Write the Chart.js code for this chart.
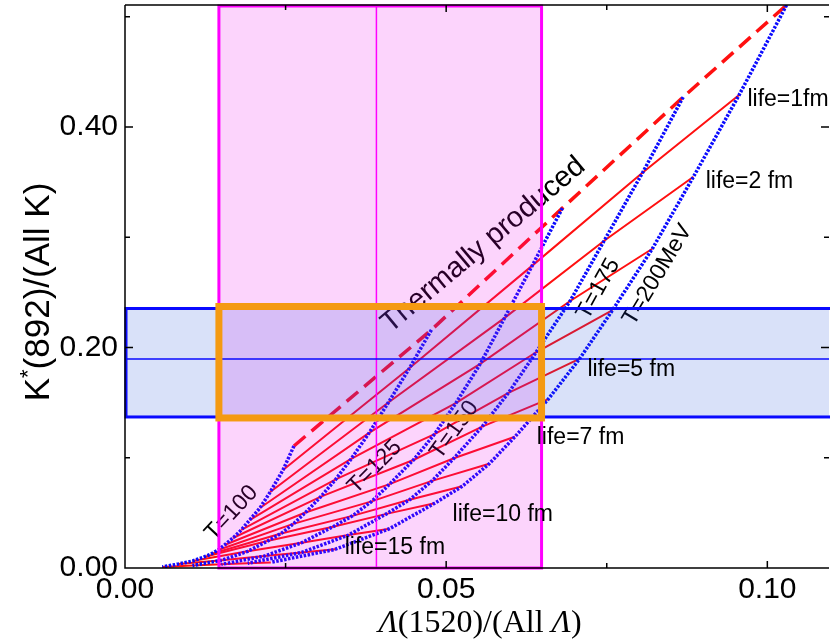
<!DOCTYPE html>
<html>
<head>
<meta charset="utf-8">
<script src="https://cdn.jsdelivr.net/npm/chart.js@4.4.1/dist/chart.umd.min.js"></script>
<style>
  html, body { margin: 0; padding: 0; background: #fff; }
</style>
</head>
<body>
<canvas id="chart" width="830" height="641"></canvas>
<script>
// ---- values ----
const temperatures = [100, 125, 150, 175, 200];                   // MeV
const lifetimes = [0, 1, 2, 3, 4, 5, 6, 7, 8, 9, 10, 12, 15, 20];  // fm (0 = thermal)

// Lambda(1520)/(All Lambda) and K*(892)/(All K) along each isotherm, one entry per lifetime
const lambdaT100 = [0.0263, 0.0246, 0.0226, 0.0210, 0.0194, 0.0181, 0.0168, 0.0155, 0.0145, 0.0134, 0.0123, 0.0105, 0.0083, 0.0058];
const kstarT100  = [0.1107, 0.0889, 0.0689, 0.0544, 0.0435, 0.0345, 0.0272, 0.0209, 0.0163, 0.0127, 0.0100, 0.0063, 0.0036, 0.0009];
const lambdaT125 = [0.0477, 0.0443, 0.0410, 0.0380, 0.0352, 0.0328, 0.0305, 0.0281, 0.0262, 0.0243, 0.0223, 0.0191, 0.0151, 0.0105];
const kstarT125  = [0.2160, 0.1814, 0.1501, 0.1225, 0.0989, 0.0804, 0.0648, 0.0503, 0.0400, 0.0313, 0.0248, 0.0151, 0.0071, 0.0022];
const lambdaT150 = [0.0681, 0.0634, 0.0591, 0.0553, 0.0515, 0.0482, 0.0449, 0.0412, 0.0384, 0.0354, 0.0324, 0.0275, 0.0217, 0.0150];
const kstarT150  = [0.3265, 0.2743, 0.2269, 0.1851, 0.1495, 0.1215, 0.0980, 0.0761, 0.0604, 0.0473, 0.0375, 0.0229, 0.0108, 0.0033];
const lambdaT175 = [0.0869, 0.0806, 0.0746, 0.0693, 0.0640, 0.0597, 0.0556, 0.0512, 0.0478, 0.0443, 0.0407, 0.0348, 0.0275, 0.0191];
const kstarT175  = [0.4272, 0.3588, 0.2969, 0.2422, 0.1957, 0.1589, 0.1282, 0.0995, 0.0790, 0.0619, 0.0491, 0.0299, 0.0141, 0.0043];
const lambdaT200 = [0.1030, 0.0956, 0.0885, 0.0821, 0.0759, 0.0708, 0.0659, 0.0607, 0.0567, 0.0525, 0.0482, 0.0412, 0.0327, 0.0227];
const kstarT200  = [0.5107, 0.4290, 0.3549, 0.2896, 0.2339, 0.1900, 0.1532, 0.1190, 0.0945, 0.0741, 0.0587, 0.0357, 0.0169, 0.0051];

// measured bands: [low, high, central]
const lambdaBand = [0.01462, 0.06485, 0.03914];
const kstarBand  = [0.1370, 0.2354, 0.1896];

const xTicks = [0, 0.05, 0.10];
const xMinorTicks = [0.025, 0.075];
const yTicks = [0, 0.20, 0.40];
const yMinorTicks = [0.1, 0.3, 0.5];

const labelledLifetimes = [1, 2, 5, 7, 10, 15];

// ---- build datasets ----
const lambdaByT = [lambdaT100, lambdaT125, lambdaT150, lambdaT175, lambdaT200];
const kstarByT  = [kstarT100, kstarT125, kstarT150, kstarT175, kstarT200];

const isotherms = temperatures.map((t, ti) => ({
  label: 'T=' + t,
  data: lifetimes.map((_, li) => ({ x: lambdaByT[ti][li], y: kstarByT[ti][li] })),
  borderColor: '#0a0aff',
  borderWidth: 3.5,
  borderDash: [2.5, 1.5],
  order: 0
}));

const lifeLines = lifetimes.map((l, li) => ({
  label: li === 0 ? 'Thermally produced' : 'life=' + l + ' fm',
  data: temperatures.map((_, ti) => ({ x: lambdaByT[ti][li], y: kstarByT[ti][li] })),
  borderColor: '#ff1010',
  borderWidth: li === 0 ? 3.5 : 2,
  borderDash: li === 0 ? [15, 8] : [],
  order: 1
}));

// annotation text anchors (data coordinates) and rotation in degrees
const notes = [
  { text: 'Thermally produced', x: 0.0558, y: 0.293, rot: -40, size: 29 },
  { text: 'T=100', x: 0.0166, y: 0.0499, rot: -47, size: 23 },
  { text: 'T=125', x: 0.0389, y: 0.0916, rot: -45, size: 23 },
  { text: 'T=150', x: 0.0513, y: 0.1252, rot: -54, size: 23 },
  { text: 'T=175', x: 0.0737, y: 0.2531, rot: -61, size: 23 },
  { text: 'T=200MeV', x: 0.0829, y: 0.2660, rot: -59, size: 23 }
];
const lifeNotes = [
  { x: 0.0969, y: 0.4245 },
  { x: 0.0904, y: 0.3501 },
  { x: 0.0720, y: 0.1796 },
  { x: 0.0641, y: 0.1179 },
  { x: 0.0510, y: 0.0481 },
  { x: 0.0342, y: 0.0181 }
];

const SANS = '"Liberation Sans", Arial, sans-serif';
const SERIF = '"Liberation Serif", "Times New Roman", serif';

const overlays = {
  id: 'overlays',
  afterDatasetsDraw(chart) {
    const { ctx, chartArea: a, scales: { x, y } } = chart;
    ctx.save();

    // rotated notes
    ctx.fillStyle = '#000';
    ctx.textAlign = 'center';
    ctx.textBaseline = 'middle';
    notes.forEach(n => {
      ctx.save();
      ctx.translate(x.getPixelForValue(n.x), y.getPixelForValue(n.y));
      ctx.rotate(n.rot * Math.PI / 180);
      ctx.font = n.size + 'px ' + SANS;
      ctx.fillText(n.text, 0, 0);
      ctx.restore();
    });

    const x0 = x.getPixelForValue(lambdaBand[0]);
    const x1 = x.getPixelForValue(lambdaBand[1]);
    const xc = x.getPixelForValue(lambdaBand[2]);
    const y0 = y.getPixelForValue(kstarBand[0]);
    const y1 = y.getPixelForValue(kstarBand[1]);
    const yc = y.getPixelForValue(kstarBand[2]);

    // Lambda(1520) band
    ctx.fillStyle = 'rgba(235, 0, 235, 0.17)';
    ctx.fillRect(x0, a.top, x1 - x0, a.bottom - a.top);
    // K* band
    ctx.fillStyle = 'rgba(30, 80, 220, 0.17)';
    ctx.fillRect(a.left, y1, a.right - a.left, y0 - y1);

    ctx.strokeStyle = '#ff00ff';
    ctx.lineWidth = 3;
    ctx.strokeRect(x0, a.top + 1, x1 - x0, a.bottom - a.top - 1);
    ctx.lineWidth = 1.5;
    ctx.beginPath();
    ctx.moveTo(xc, a.top);
    ctx.lineTo(xc, a.bottom);
    ctx.stroke();

    ctx.strokeStyle = '#0a0aff';
    ctx.lineWidth = 3;
    ctx.strokeRect(a.left + 1, y1, a.right - a.left + 10, y0 - y1);
    ctx.lineWidth = 1.5;
    ctx.beginPath();
    ctx.moveTo(a.left, yc);
    ctx.lineTo(a.right, yc);
    ctx.stroke();

    // overlap box
    ctx.strokeStyle = '#f49a12';
    ctx.lineWidth = 7;
    ctx.strokeRect(x0, y1 - 2, x1 - x0, y0 - y1 + 3);

    // lifetime labels
    ctx.fillStyle = '#000';
    ctx.textAlign = 'left';
    ctx.font = '23px ' + SANS;
    labelledLifetimes.forEach((l, i) => {
      const txt = l === 1 ? 'life=1fm' : 'life=' + l + ' fm';
      ctx.fillText(txt, x.getPixelForValue(lifeNotes[i].x), y.getPixelForValue(lifeNotes[i].y));
    });

    // frame and inward ticks
    ctx.strokeStyle = '#000';
    ctx.lineWidth = 1.5;
    ctx.beginPath();
    ctx.moveTo(a.left, a.top);
    ctx.lineTo(a.right, a.top);
    ctx.moveTo(a.left, a.top);
    ctx.lineTo(a.left, a.bottom);
    ctx.lineTo(a.right, a.bottom);
    xTicks.concat(xMinorTicks).forEach(v => {
      const px = x.getPixelForValue(v);
      const len = xTicks.includes(v) ? 7 : 5;
      ctx.moveTo(px, a.bottom); ctx.lineTo(px, a.bottom - len);
      ctx.moveTo(px, a.top); ctx.lineTo(px, a.top + len);
    });
    yTicks.concat(yMinorTicks).forEach(v => {
      const py = y.getPixelForValue(v);
      const len = yTicks.includes(v) ? 8 : 5;
      ctx.moveTo(a.left, py); ctx.lineTo(a.left + len, py);
      ctx.moveTo(a.right, py); ctx.lineTo(a.right - len, py);
    });
    ctx.stroke();

    // axis titles
    ctx.textAlign = 'left';
    ctx.textBaseline = 'alphabetic';
    const xt = ['\u039B', '(1520)/(All ', '\u039B', ')'];
    const xfont = i => (i % 2 === 0 ? 'italic ' : '') + '32px ' + SERIF;
    let w = 0;
    xt.forEach((s, i) => { ctx.font = xfont(i); w += ctx.measureText(s).width; });
    let cx = 480 - w / 2;
    xt.forEach((s, i) => {
      ctx.font = xfont(i);
      ctx.fillText(s, cx, 632);
      cx += ctx.measureText(s).width;
    });

    ctx.save();
    ctx.translate(49, 292);
    ctx.rotate(-Math.PI / 2);
    const big = '35px ' + SANS, small = '22px ' + SANS;
    const p1 = 'K', p2 = '*', p3 = '(892)/(All K)';
    ctx.font = big;
    const w1 = ctx.measureText(p1).width;
    const w3 = ctx.measureText(p3).width;
    ctx.font = small;
    const w2 = ctx.measureText(p2).width;
    const sx = -(w1 + w2 + w3) / 2;
    ctx.font = big;
    ctx.fillText(p1, sx, 0);
    ctx.font = small;
    ctx.fillText(p2, sx + w1, -14);
    ctx.font = big;
    ctx.fillText(p3, sx + w1 + w2, 0);
    ctx.restore();

    ctx.restore();
  }
};

new Chart(document.getElementById('chart'), {
  type: 'scatter',
  data: { datasets: isotherms.concat(lifeLines) },
  options: {
    responsive: false,
    animation: false,
    showLine: true,
    layout: { padding: { left: 0, right: 1, top: 5, bottom: 0 } },
    elements: {
      point: { radius: 0, hoverRadius: 0 },
      line: { tension: 0, fill: false }
    },
    plugins: {
      legend: { display: false },
      tooltip: { enabled: false }
    },
    scales: {
      x: {
        type: 'linear',
        min: 0,
        max: 0.1096,
        grid: { display: false, drawTicks: false },
        border: { display: false },
        afterBuildTicks: s => { s.ticks = xTicks.map(v => ({ value: v })); },
        afterFit: s => { s.height = 73; s.paddingLeft = 0; s.paddingRight = 0; },
        ticks: {
          color: '#000',
          padding: 4,
          maxRotation: 0,
          font: { family: SANS, size: 30 },
          callback: v => v.toFixed(2)
        }
      },
      y: {
        type: 'linear',
        min: 0,
        max: 0.5107,
        grid: { display: false, drawTicks: false },
        border: { display: false },
        afterBuildTicks: s => { s.ticks = yTicks.map(v => ({ value: v })); },
        afterFit: s => { s.width = 125; s.paddingTop = 0; s.paddingBottom = 0; },
        ticks: {
          color: '#000',
          padding: 7,
          font: { family: SANS, size: 30 },
          callback: v => v.toFixed(2)
        }
      }
    }
  },
  plugins: [overlays]
});
</script>
</body>
</html>
